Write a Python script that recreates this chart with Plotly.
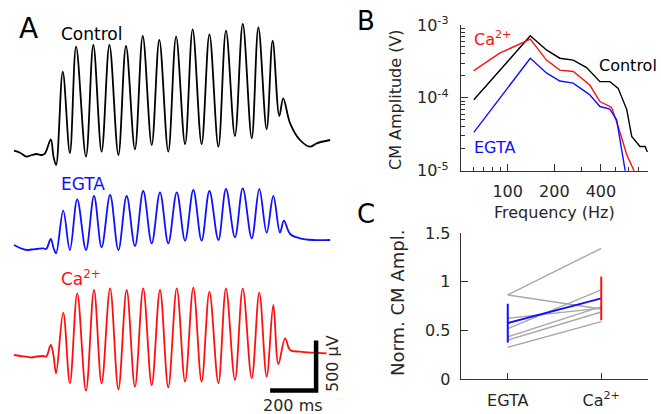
import math
import plotly.graph_objects as go

# ---------------- Panel A: CM traces (time in ms, voltage in µV relative to baseline)
ctrl_t = [0, 26, 55, 77, 99, 121, 135, 160, 172, 183, 212, 243, 270, 313, 345, 381, 415, 454, 487, 526,
          560, 599, 632, 671, 705, 744, 777, 816, 850, 889, 922, 961, 995, 1034, 1063, 1099, 1125, 1154,
          1171, 1201, 1244, 1288, 1317, 1375]
ctrl_v = [13, -7, -47, -30, -20, -30, -13, 127, -47, -130, 803, -10, 1053, -47, 1070, 3, 1070, -30, 1060, 27,
          1160, 70, 1120, 3, 1153, 80, 1227, 80, 1177, 53, 1213, 160, 1280, 137, 1247, 227, 1113, 360,
          537, 287, 120, 53, 87, 120]

egta_t = [0, 26, 55, 77, 99, 127, 140, 160, 172, 183, 214, 243, 275, 313, 348, 381, 418, 454, 490, 526,
          562, 599, 635, 671, 708, 744, 780, 816, 850, 889, 922, 961, 995, 1034, 1067, 1099, 1128, 1157,
          1174, 1201, 1244, 1301, 1375]
egta_v = [30, 0, -20, -15, -10, -3, -10, 90, 0, -53, 373, -20, 487, -20, 520, 7, 530, -20, 520, 20,
          570, 47, 557, 47, 557, 73, 580, 73, 570, 80, 590, 107, 597, 97, 590, 153, 520, 153,
          273, 140, 97, 80, 80]

ca_t = [0, 26, 55, 77, 99, 127, 140, 160, 172, 183, 214, 243, 275, 313, 348, 381, 418, 454, 490, 526,
        562, 599, 635, 671, 708, 744, 780, 816, 850, 889, 922, 961, 995, 1034, 1067, 1099, 1128, 1150,
        1179, 1201, 1244, 1302, 1360]
ca_v = [10, 0, -7, -15, -5, 0, -5, 110, 0, -173, 433, -273, 627, -347, 660, -273, 677, -333, 660, -307,
        677, -290, 660, -313, 677, -257, 683, -257, 643, -273, 677, -240, 677, -223, 633, -207, 510, -80,
        177, 60, 43, 33, 27]

# ---------------- Panel B: CM amplitude vs frequency
ctrl_f = [60.5, 140, 178, 217, 265, 323, 394, 457, 517, 587, 632, 715, 771, 797]
ctrl_amp = [9.4e-5, 7.1e-4, 4.55e-4, 3.5e-4, 3.3e-4, 2.6e-4, 1.67e-4, 1.67e-4, 1.35e-4, 6.9e-5,
            2.95e-5, 2.15e-5, 2.15e-5, 1.8e-5]
ca_f = [60.5, 88.8, 140, 178, 217, 265, 339, 394, 469, 517, 587, 654, 680]
ca_amp = [2.37e-4, 4.1e-4, 6.4e-4, 3.3e-4, 2.4e-4, 2.3e-4, 1.5e-4, 8.9e-5, 7.4e-5, 4.05e-5, 1.66e-5,
          1.0e-5, 7e-6]
egta_f = [60.5, 140, 178, 217, 265, 339, 394, 457, 505, 572, 590]
egta_amp = [3.35e-5, 3.5e-4, 2.2e-4, 1.7e-4, 1.59e-4, 1.1e-4, 7.6e-5, 7.0e-5, 5.0e-5, 1.0e-5, 7e-6]

freq_ticks = [100, 200, 400]
freq_minor = [50, 60, 70, 80, 90, 300, 500, 600, 700, 800]
amp_ticks = [1e-5, 1e-4, 1e-3]
amp_ticktext = ["10<sup>-5</sup>", "10<sup>-4</sup>", "10<sup>-3</sup>"]
amp_minor = [m * 10 ** e for e in (-5, -4) for m in range(2, 10)]

# ---------------- Panel C: normalised CM amplitude per animal
cond_labels = ["EGTA", "Ca<sup>2+</sup>"]
c_egta = [0.865, 0.865, 0.625, 0.52, 0.435, 0.40, 0.326]
c_ca = [1.345, 0.72, 0.73, 0.917, 0.745, 0.69, 0.59]
c_mean = [0.575, 0.83]
c_err = [0.2, 0.225]

# ---------------- layout helpers
W, H = 661, 414
FONT = "DejaVu Sans"
TXT = "#262626"
BLUE, RED = "#1010ff", "#ff1010"
OFF_CTRL, OFF_EGTA, OFF_CA = -1520, -2480, -3560


def px(x):
    return x / W


def py(y):
    return 1 - y / H


fig = go.Figure()

for t, v, off, col in [(ctrl_t, ctrl_v, OFF_CTRL, "black"),
                       (egta_t, egta_v, OFF_EGTA, BLUE),
                       (ca_t, ca_v, OFF_CA, RED)]:
    fig.add_trace(go.Scatter(x=t, y=[off + a for a in v], mode="lines",
                             line=dict(color=col, width=1.8, shape="spline", smoothing=1.0),
                             xaxis="x", yaxis="y", hoverinfo="skip"))

for f, a, col in [(ctrl_f, ctrl_amp, "black"), (ca_f, ca_amp, RED), (egta_f, egta_amp, BLUE)]:
    fig.add_trace(go.Scatter(x=f, y=a, mode="lines", line=dict(color=col, width=1.4),
                             xaxis="x2", yaxis="y2", hoverinfo="skip"))

for e, c in zip(c_egta, c_ca):
    fig.add_trace(go.Scatter(x=[1, 2], y=[e, c], mode="lines", line=dict(color="#a8a8a8", width=1.4),
                             xaxis="x3", yaxis="y3", hoverinfo="skip"))

fig.add_trace(go.Scatter(x=[1, 2], y=c_mean, mode="lines", line=dict(color=BLUE, width=2),
                         xaxis="x3", yaxis="y3", hoverinfo="skip"))
for i, col in enumerate([BLUE, RED]):
    fig.add_trace(go.Scatter(x=[i + 1], y=[c_mean[i]], mode="markers", marker=dict(size=1, opacity=0),
                             error_y=dict(type="data", array=[c_err[i]], color=col, thickness=2, width=0),
                             xaxis="x3", yaxis="y3", hoverinfo="skip"))

# scale bar
SCALE_T, SCALE_V = 200, 500
sb_x1, sb_y0 = 1314, -3905
fig.add_shape(type="path",
              path=f"M {sb_x1 - SCALE_T},{sb_y0} L {sb_x1},{sb_y0} L {sb_x1},{sb_y0 + SCALE_V}",
              xref="x", yref="y", line=dict(color="black", width=4.5), fillcolor="rgba(0,0,0,0)")

axis_common = dict(showline=True, linecolor="#333333", linewidth=1.3, ticks="inside", tickcolor="#333333",
                   showgrid=False, zeroline=False, tickfont=dict(family=FONT, size=16, color=TXT),
                   mirror=False, automargin=False)

fig.update_layout(
    template="none",
    width=W, height=H, autosize=False, margin=dict(l=0, r=0, t=0, b=0, pad=0),
    paper_bgcolor="white", plot_bgcolor="white", showlegend=False, hovermode=False,
    font=dict(family=FONT, color=TXT),
    xaxis=dict(domain=[0, 340 / W], range=[-61, 1418], visible=False, automargin=False),
    yaxis=dict(domain=[0, 1], range=[-4140, 0], visible=False, automargin=False),
    xaxis2=dict(anchor="y2", domain=[px(461), px(648)], type="log",
                range=[math.log10(50), math.log10(805)], tickvals=freq_ticks,
                ticktext=[str(v) for v in freq_ticks], ticklen=7, ticklabelstandoff=6,
                minor=dict(tickvals=freq_minor, ticks="inside", ticklen=4, tickcolor="#333333", showgrid=False),
                **axis_common),
    yaxis2=dict(anchor="x2", domain=[py(170.7), py(25)], type="log", range=[-5, -3],
                tickvals=amp_ticks, ticktext=amp_ticktext, ticklen=7, ticklabelstandoff=8,
                minor=dict(tickvals=amp_minor, ticks="inside", ticklen=4, tickcolor="#333333", showgrid=False),
                **axis_common),
    xaxis3=dict(anchor="y3", domain=[px(461), px(648)], range=[0.5, 2.5], tickvals=[1, 2],
                ticktext=cond_labels, ticklen=6, ticklabelstandoff=6, **axis_common),
    yaxis3=dict(anchor="x3", domain=[py(379), py(233.3)], range=[0, 1.5], tickvals=[0, 0.5, 1, 1.5],
                ticktext=["0", "0.5", "1", "1.5"], ticklen=7, ticklabelstandoff=6, **axis_common),
)


def ann(text, x, y, size=16, color=TXT, xanchor="left", angle=0):
    fig.add_annotation(text=text, x=px(x), y=py(y), xref="paper", yref="paper", showarrow=False,
                       xanchor=xanchor, yanchor="middle", textangle=angle,
                       font=dict(family=FONT, size=size, color=color))


ann("A", 17, 29, size=28, color="black")
ann("B", 355, 21, size=26, color="black")
ann("C", 355, 214, size=26, color="black")
ann("Control", 59, 34, size=17, color="black")
ann("EGTA", 59, 184, size=17, color=BLUE)
ann("Ca<sup>2+</sup>", 59, 278, size=17, color=RED)
ann("200 ms", 293, 405, xanchor="center")
ann("500 µV", 332, 364, xanchor="center", angle=-90)
ann("Ca<sup>2+</sup>", 472, 39, color=RED)
ann("Control", 597, 65, color="black")
ann("EGTA", 472, 147, color=BLUE)
ann("CM Amplitude (V)", 396, 100, xanchor="center", angle=-90)
ann("Frequency (Hz)", 554, 213, xanchor="center")
ann("Norm. CM Ampl.", 397, 303, size=18, xanchor="center", angle=-90)

fig.write_html("out.html", config={"displayModeBar": False, "staticPlot": True},
               post_script="document.body.style.margin='0';document.body.style.overflow='hidden';")
